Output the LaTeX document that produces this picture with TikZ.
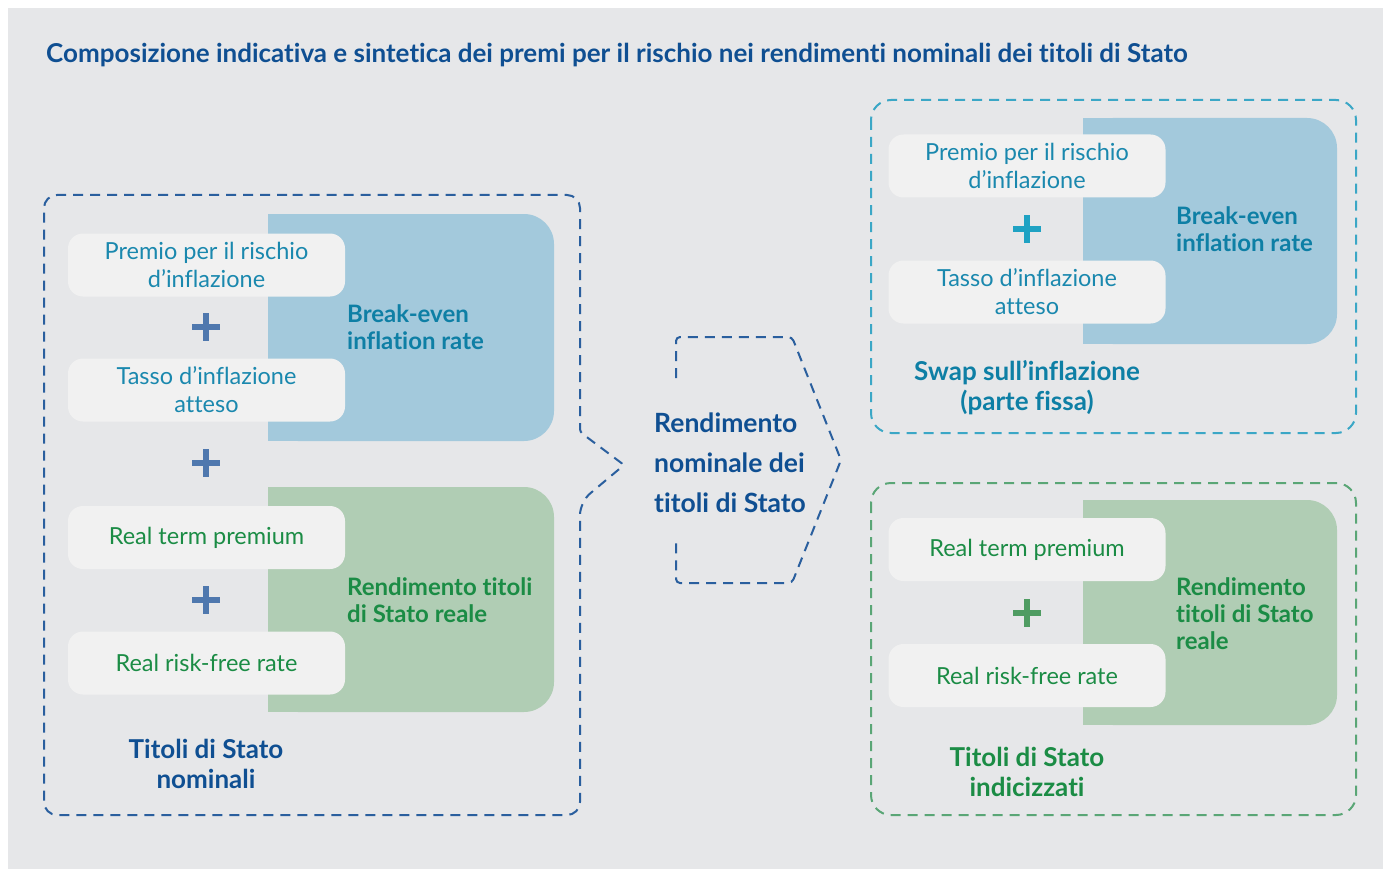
\documentclass[tikz,border=0pt]{standalone}
\usepackage{fontspec}
\setmainfont{Lato}[Ligatures=NoCommon]
\definecolor{bg}{HTML}{E6E7E9}
\definecolor{blockblue}{HTML}{A3C9DC}
\definecolor{blockgreen}{HTML}{B0CDB4}
\definecolor{boxwhite}{HTML}{F1F1F1}
\definecolor{navy}{HTML}{0F4F92}
\definecolor{navydash}{HTML}{2A5F9E}
\definecolor{teal}{HTML}{1A88AE}
\definecolor{tealbold}{HTML}{0E7FA5}
\definecolor{tealdash}{HTML}{3BA7C6}
\definecolor{green}{HTML}{1B8C45}
\definecolor{greendash}{HTML}{5AA676}
\definecolor{plusnavy}{HTML}{4F78AE}
\definecolor{plusteal}{HTML}{1FA2C3}
\definecolor{plusgreen}{HTML}{4F9C62}
\begin{document}
\begin{tikzpicture}[x=1pt,y=-1pt,
  whitebox/.style={fill=boxwhite, rounded corners=15, minimum width=277, minimum height=63,
    inner sep=0, align=center, font=\fontsize{23.5}{28}\selectfont},
  blocklabel/.style={anchor=west, align=left, inner sep=0, font=\bfseries\fontsize{24}{27}\selectfont},
  grouplabel/.style={align=center, inner sep=0, font=\bfseries\fontsize{26}{30}\selectfont},
  plussign/.style={minimum size=28, inner sep=0,
    path picture={\fill[#1] ([xshift=-14pt,yshift=-3pt]path picture bounding box.center) rectangle ([xshift=14pt,yshift=3pt]path picture bounding box.center);
                  \fill[#1] ([xshift=-3pt,yshift=-14pt]path picture bounding box.center) rectangle ([xshift=3pt,yshift=14pt]path picture bounding box.center);}},
  container/.style={line width=2pt, dash pattern=on 10pt off 7pt}
]
\useasboundingbox (0,0) rectangle (1383,869);
\fill[white] (0,0) rectangle (1383,869);
\fill[bg] (8,8) rectangle (1383,869);

% title
\node[anchor=west, inner sep=0, text=navy, font=\bfseries\fontsize{26}{30}\selectfont] (title) at (46,55)
  {Composizione indicativa e sintetica dei premi per il rischio nei rendimenti nominali dei titoli di Stato};

% ---------- nominal government bonds ----------
\draw[container, navydash] (300,195) [rounded corners=13] -- (44,195) -- (44,815) -- (580,815)
  -- (580,502) [rounded corners=3] -- (624,465) -- (580,432) [rounded corners=13] -- (580,195) -- cycle;

\fill[blockblue, rounded corners=30] (268,214) rectangle (554,441);
\fill[blockblue] (268,214) rectangle (320,441);
\fill[blockgreen, rounded corners=30] (268,487) rectangle (554,712);
\fill[blockgreen] (268,487) rectangle (320,712);

\node[whitebox, text=teal] (lprem) at (206.5,265) {Premio per il rischio\\d’inflazione};
\node[plussign=plusnavy] (lplus1) at (206,327) {};
\node[whitebox, text=teal] (lexp) at (206.5,390) {Tasso d’inflazione\\atteso};
\node[plussign=plusnavy] (lplus2) at (206,463) {};
\node[whitebox, text=green] (lterm) at (206.5,537.5) {Real term premium};
\node[plussign=plusnavy] (lplus3) at (206,600) {};
\node[whitebox, text=green] (lrf) at (206.5,663) {Real risk-free rate};

\node[blocklabel, text=tealbold] (lbei) at (347,327) {Break-even\\inflation rate};
\node[blocklabel, text=green] (lreal) at (347,600) {Rendimento titoli\\di Stato reale};
\node[grouplabel, text=navy] (lgroup) at (206,764) {Titoli di Stato\\nominali};

% ---------- nominal yield ----------
\draw[container, navydash, rounded corners=4] (676,378) -- (676,337) -- (792,337) -- (841,460)
  -- (792,583) -- (676,583) -- (676,542);
\node[anchor=west, align=left, inner sep=0, text=navy, font=\bfseries\fontsize{26.5}{40}\selectfont]
  (yield) at (654,463) {Rendimento\\nominale dei\\titoli di Stato};

% ---------- inflation swap ----------
\draw[container, tealdash, rounded corners=20] (871,100) rectangle (1356,433);
\fill[blockblue, rounded corners=30] (1083,118) rectangle (1337,344);
\fill[blockblue] (1083,118) rectangle (1130,344);
\node[whitebox, text=teal] (rprem) at (1027,166) {Premio per il rischio\\d’inflazione};
\node[plussign=plusteal] (rplus1) at (1027,229) {};
\node[whitebox, text=teal] (rexp) at (1027,292) {Tasso d’inflazione\\atteso};
\node[blocklabel, text=tealbold] (rbei) at (1176,229) {Break-even\\inflation rate};
\node[grouplabel, text=tealbold] (rswap) at (1027,388) {Swap sull’inflazione\\(parte fissa)};

% ---------- inflation-linked bonds ----------
\draw[container, greendash, rounded corners=20] (871,483) rectangle (1356,815);
\fill[blockgreen, rounded corners=30] (1083,500) rectangle (1337,725);
\fill[blockgreen] (1083,500) rectangle (1130,725);
\node[whitebox, text=green] (rterm) at (1027,549.5) {Real term premium};
\node[plussign=plusgreen] (rplus2) at (1027,613) {};
\node[whitebox, text=green] (rrf) at (1027,675.5) {Real risk-free rate};
\node[blocklabel, text=green] (rreal) at (1176,614) {Rendimento\\titoli di Stato\\reale};
\node[grouplabel, text=green] (rgroup) at (1027,772) {Titoli di Stato\\indicizzati};
\end{tikzpicture}
\end{document}
